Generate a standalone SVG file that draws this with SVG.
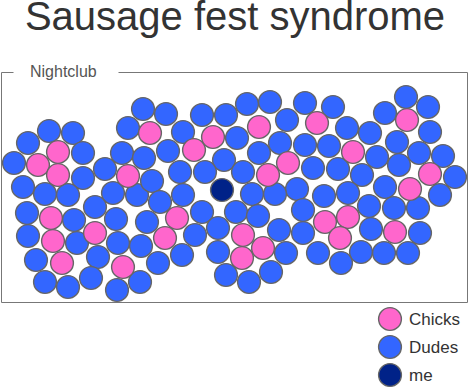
<svg xmlns="http://www.w3.org/2000/svg" width="470" height="389" viewBox="0 0 470 389">
<style>
.b{fill:#3366ff;stroke:#666;stroke-width:1.4}
.p{fill:#ff66cc;stroke:#666;stroke-width:1.4}
.m{fill:#002288;stroke:#666;stroke-width:1.4}
.t{font-family:"Liberation Sans",Arial,sans-serif}
.frame{fill:none;stroke:#777;stroke-width:1}
</style>
<rect width="470" height="389" fill="#fff"/>
<text class="t" x="235" y="30" font-size="40" fill="#333" text-anchor="middle">Sausage fest syndrome</text>
<g id="nightclub">
<path class="frame" d="M13.5,72.5 H1.5 V302.5 H467.5 V72.5 H118.5"/>
<text class="t" x="30" y="77" font-size="16" fill="#555">Nightclub</text>
</g>
<g id="dudes">
<circle class="b" cx="143" cy="109" r="11.4"/>
<circle class="b" cx="128" cy="128" r="11.4"/>
<circle class="b" cx="49" cy="131" r="11.4"/>
<circle class="b" cx="73" cy="133" r="11.4"/>
<circle class="b" cx="28" cy="143" r="11.4"/>
<circle class="b" cx="83" cy="153" r="11.4"/>
<circle class="b" cx="14" cy="163" r="11.4"/>
<circle class="b" cx="83" cy="178" r="11.4"/>
<circle class="b" cx="105" cy="169" r="11.4"/>
<circle class="b" cx="122" cy="153" r="11.4"/>
<circle class="b" cx="144" cy="158" r="11.4"/>
<circle class="b" cx="23" cy="187" r="11.4"/>
<circle class="b" cx="45" cy="194" r="11.4"/>
<circle class="b" cx="68" cy="195" r="11.4"/>
<circle class="b" cx="113" cy="193" r="11.4"/>
<circle class="b" cx="137" cy="195" r="11.4"/>
<circle class="b" cx="95" cy="207" r="11.4"/>
<circle class="b" cx="166" cy="114" r="11.4"/>
<circle class="b" cx="202" cy="115" r="11.4"/>
<circle class="b" cx="226" cy="115" r="11.4"/>
<circle class="b" cx="247" cy="104" r="11.4"/>
<circle class="b" cx="270" cy="102" r="11.4"/>
<circle class="b" cx="305" cy="103" r="11.4"/>
<circle class="b" cx="183" cy="132" r="11.4"/>
<circle class="b" cx="237" cy="138" r="11.4"/>
<circle class="b" cx="287" cy="120" r="11.4"/>
<circle class="b" cx="168" cy="151" r="11.4"/>
<circle class="b" cx="224" cy="160" r="11.4"/>
<circle class="b" cx="259" cy="153" r="11.4"/>
<circle class="b" cx="280" cy="143" r="11.4"/>
<circle class="b" cx="180" cy="172" r="11.4"/>
<circle class="b" cx="205" cy="172" r="11.4"/>
<circle class="b" cx="243" cy="172" r="11.4"/>
<circle class="b" cx="297" cy="189" r="11.4"/>
<circle class="b" cx="252" cy="194" r="11.4"/>
<circle class="b" cx="275" cy="194" r="11.4"/>
<circle class="b" cx="183" cy="195" r="11.4"/>
<circle class="b" cx="152" cy="181" r="11.4"/>
<circle class="b" cx="305" cy="145" r="11.4"/>
<circle class="b" cx="333" cy="107" r="11.4"/>
<circle class="b" cx="347" cy="128" r="11.4"/>
<circle class="b" cx="370" cy="133" r="11.4"/>
<circle class="b" cx="406" cy="97" r="11.4"/>
<circle class="b" cx="428" cy="107" r="11.4"/>
<circle class="b" cx="385" cy="113" r="11.4"/>
<circle class="b" cx="430" cy="132" r="11.4"/>
<circle class="b" cx="329" cy="146" r="11.4"/>
<circle class="b" cx="397" cy="142" r="11.4"/>
<circle class="b" cx="377" cy="157" r="11.4"/>
<circle class="b" cx="419" cy="153" r="11.4"/>
<circle class="b" cx="443" cy="156" r="11.4"/>
<circle class="b" cx="455" cy="177" r="11.4"/>
<circle class="b" cx="399" cy="165" r="11.4"/>
<circle class="b" cx="313" cy="168" r="11.4"/>
<circle class="b" cx="338" cy="169" r="11.4"/>
<circle class="b" cx="362" cy="175" r="11.4"/>
<circle class="b" cx="385" cy="187" r="11.4"/>
<circle class="b" cx="440" cy="195" r="11.4"/>
<circle class="b" cx="324" cy="196" r="11.4"/>
<circle class="b" cx="348" cy="193" r="11.4"/>
<circle class="b" cx="369" cy="206" r="11.4"/>
<circle class="b" cx="27" cy="213" r="11.4"/>
<circle class="b" cx="74" cy="220" r="11.4"/>
<circle class="b" cx="116" cy="219" r="11.4"/>
<circle class="b" cx="147" cy="222" r="11.4"/>
<circle class="b" cx="28" cy="236" r="11.4"/>
<circle class="b" cx="77" cy="243" r="11.4"/>
<circle class="b" cx="118" cy="243" r="11.4"/>
<circle class="b" cx="141" cy="246" r="11.4"/>
<circle class="b" cx="36" cy="260" r="11.4"/>
<circle class="b" cx="98" cy="257" r="11.4"/>
<circle class="b" cx="45" cy="282" r="11.4"/>
<circle class="b" cx="68" cy="287" r="11.4"/>
<circle class="b" cx="91" cy="278" r="11.4"/>
<circle class="b" cx="117" cy="290" r="11.4"/>
<circle class="b" cx="140" cy="282" r="11.4"/>
<circle class="b" cx="160" cy="202" r="11.4"/>
<circle class="b" cx="202" cy="212" r="11.4"/>
<circle class="b" cx="195" cy="235" r="11.4"/>
<circle class="b" cx="218" cy="228" r="11.4"/>
<circle class="b" cx="236" cy="212" r="11.4"/>
<circle class="b" cx="258" cy="216" r="11.4"/>
<circle class="b" cx="279" cy="230" r="11.4"/>
<circle class="b" cx="303" cy="210" r="11.4"/>
<circle class="b" cx="303" cy="233" r="11.4"/>
<circle class="b" cx="286" cy="253" r="11.4"/>
<circle class="b" cx="218" cy="252" r="11.4"/>
<circle class="b" cx="182" cy="255" r="11.4"/>
<circle class="b" cx="158" cy="263" r="11.4"/>
<circle class="b" cx="271" cy="272" r="11.4"/>
<circle class="b" cx="226" cy="275" r="11.4"/>
<circle class="b" cx="249" cy="282" r="11.4"/>
<circle class="b" cx="394" cy="208" r="11.4"/>
<circle class="b" cx="418" cy="208" r="11.4"/>
<circle class="b" cx="371" cy="229" r="11.4"/>
<circle class="b" cx="420" cy="233" r="11.4"/>
<circle class="b" cx="318" cy="253" r="11.4"/>
<circle class="b" cx="361" cy="252" r="11.4"/>
<circle class="b" cx="384" cy="253" r="11.4"/>
<circle class="b" cx="408" cy="253" r="11.4"/>
<circle class="b" cx="341" cy="263" r="11.4"/>
</g>
<g id="chicks">
<circle class="p" cx="150" cy="133" r="11.4"/>
<circle class="p" cx="58" cy="152" r="11.4"/>
<circle class="p" cx="38" cy="165" r="11.4"/>
<circle class="p" cx="58" cy="175" r="11.4"/>
<circle class="p" cx="128" cy="176" r="11.4"/>
<circle class="p" cx="213" cy="137" r="11.4"/>
<circle class="p" cx="259" cy="127" r="11.4"/>
<circle class="p" cx="194" cy="150" r="11.4"/>
<circle class="p" cx="288" cy="163" r="11.4"/>
<circle class="p" cx="268" cy="175" r="11.4"/>
<circle class="p" cx="317" cy="123" r="11.4"/>
<circle class="p" cx="407" cy="120" r="11.4"/>
<circle class="p" cx="353" cy="152" r="11.4"/>
<circle class="p" cx="430" cy="174" r="11.4"/>
<circle class="p" cx="410" cy="189" r="11.4"/>
<circle class="p" cx="51" cy="218" r="11.4"/>
<circle class="p" cx="53" cy="241" r="11.4"/>
<circle class="p" cx="95" cy="233" r="11.4"/>
<circle class="p" cx="62" cy="263" r="11.4"/>
<circle class="p" cx="123" cy="267" r="11.4"/>
<circle class="p" cx="177" cy="218" r="11.4"/>
<circle class="p" cx="165" cy="238" r="11.4"/>
<circle class="p" cx="243" cy="235" r="11.4"/>
<circle class="p" cx="263" cy="248" r="11.4"/>
<circle class="p" cx="242" cy="258" r="11.4"/>
<circle class="p" cx="325" cy="222" r="11.4"/>
<circle class="p" cx="348" cy="217" r="11.4"/>
<circle class="p" cx="340" cy="238" r="11.4"/>
<circle class="p" cx="395" cy="232" r="11.4"/>
</g>
<g id="me">
<circle class="m" cx="222" cy="190" r="11.4"/>
</g>
<g id="legend">
<circle class="p" cx="390" cy="319" r="11.4"/>
<text class="t" x="409" y="325" font-size="17" fill="#333">Chicks</text>
<circle class="b" cx="390" cy="347" r="11.4"/>
<text class="t" x="409" y="353" font-size="17" fill="#333">Dudes</text>
<circle class="m" cx="390" cy="375" r="11.4"/>
<text class="t" x="409" y="381" font-size="17" fill="#333">me</text>
</g>
</svg>
